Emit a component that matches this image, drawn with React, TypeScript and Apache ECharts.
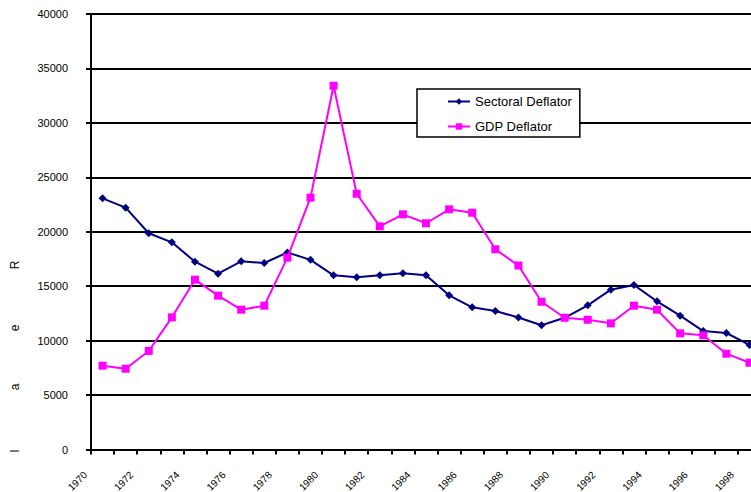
import React, { useEffect, useRef } from "react";
import * as echarts from "echarts";

const years = [
  "1970", "1971", "1972", "1973", "1974", "1975", "1976", "1977", "1978", "1979",
  "1980", "1981", "1982", "1983", "1984", "1985", "1986", "1987", "1988", "1989",
  "1990", "1991", "1992", "1993", "1994", "1995", "1996", "1997", "1998",
];

// tick labels sit on the category boundaries (one more boundary than categories)
const tickLabels = [
  "1970", "", "1972", "", "1974", "", "1976", "", "1978", "",
  "1980", "", "1982", "", "1984", "", "1986", "", "1988", "",
  "1990", "", "1992", "", "1994", "", "1996", "", "1998", "",
];

const sectoralDeflator = [
  23070, 22210, 19860, 19030, 17250, 16150, 17280, 17130, 18100, 17420,
  16000, 15810, 16000, 16180, 16000, 14160, 13060, 12720, 12130, 11410,
  12100, 13240, 14680, 15110, 13610, 12290, 10880, 10700, 9600,
];

const gdpDeflator = [
  7700, 7420, 9050, 12140, 15600, 14130, 12840, 13210, 17620, 23130,
  33410, 23490, 20500, 21600, 20780, 22060, 21750, 18390, 16900, 13570,
  12100, 11920, 11590, 13210, 12840, 10670, 10490, 8800, 7970,
];

const yTitleLetters = ["R", "e", "a", "l"];

const FONT = "Arial, 'Liberation Sans', sans-serif";

export default function App() {
  const ref = useRef<HTMLDivElement>(null);

  useEffect(() => {
    document.body.style.margin = "0";
    if (!ref.current) return;
    const chart = echarts.init(ref.current, undefined, { renderer: "svg" });
    const letterY = [265, 328, 387, 451];
    chart.setOption({
      animation: false,
      backgroundColor: "#ffffff",
      grid: {
        left: 91,
        right: -10,
        top: 14,
        bottom: 42.5,
        containLabel: false,
        outerBoundsMode: "none",
      },
      legend: {
        left: 417,
        top: 89,
        orient: "vertical",
        backgroundColor: "#ffffff",
        borderColor: "#000000",
        borderWidth: 1.5,
        borderRadius: 0,
        padding: [6, 8, 4, 30],
        itemWidth: 22,
        itemHeight: 8,
        itemGap: 12,
        textStyle: { fontFamily: FONT, fontSize: 13, color: "#000000" },
        data: ["Sectoral Deflator", "GDP Deflator"],
      },
      xAxis: [
        {
          type: "category",
          data: years,
          boundaryGap: true,
          position: "bottom",
          axisLine: { show: true, lineStyle: { color: "#000000", width: 2 } },
          axisTick: {
            show: true,
            interval: 0,
            length: 5,
            lineStyle: { color: "#000000", width: 2 },
          },
          axisLabel: { show: false },
          splitLine: { show: false },
        },
        {
          type: "category",
          data: tickLabels,
          boundaryGap: false,
          position: "bottom",
          axisLine: { show: false },
          axisTick: { show: false },
          splitLine: { show: false },
          axisLabel: {
            show: true,
            interval: 0,
            rotate: 45,
            margin: 18,
            padding: [0, 8, 0, 0],
            hideOverlap: false,
            fontFamily: FONT,
            fontSize: 10,
            color: "#000000",
          },
        },
      ],
      yAxis: {
        type: "value",
        min: 0,
        max: 40000,
        interval: 5000,
        axisLine: { show: true, lineStyle: { color: "#000000", width: 2 } },
        axisTick: { show: true, length: 5, lineStyle: { color: "#000000", width: 2 } },
        splitLine: { show: true, lineStyle: { color: "#000000", width: 2 } },
        axisLabel: {
          margin: 23,
          fontFamily: FONT,
          fontSize: 11,
          color: "#000000",
          formatter: (v: number) => String(v),
        },
      },
      graphic: yTitleLetters.map((ch, i) => ({
        type: "text",
        x: 15,
        y: letterY[i],
        rotation: Math.PI / 2,
        style: {
          text: ch,
          fontFamily: FONT,
          fontSize: 12,
          fill: "#000000",
          align: "center",
          verticalAlign: "middle",
        },
      })),
      series: [
        {
          name: "Sectoral Deflator",
          type: "line",
          xAxisIndex: 0,
          data: sectoralDeflator,
          symbol: "diamond",
          symbolSize: 8,
          color: "#000080",
          lineStyle: { color: "#000080", width: 2 },
          itemStyle: { color: "#000080" },
          z: 3,
        },
        {
          name: "GDP Deflator",
          type: "line",
          xAxisIndex: 0,
          data: gdpDeflator,
          symbol: "rect",
          symbolSize: 8,
          color: "#ff00ff",
          lineStyle: { color: "#ff00ff", width: 2 },
          itemStyle: { color: "#ff00ff" },
          z: 4,
        },
      ],
    });
    return () => chart.dispose();
  }, []);

  return <div ref={ref} style={{ width: 751, height: 492 }} />;
}
